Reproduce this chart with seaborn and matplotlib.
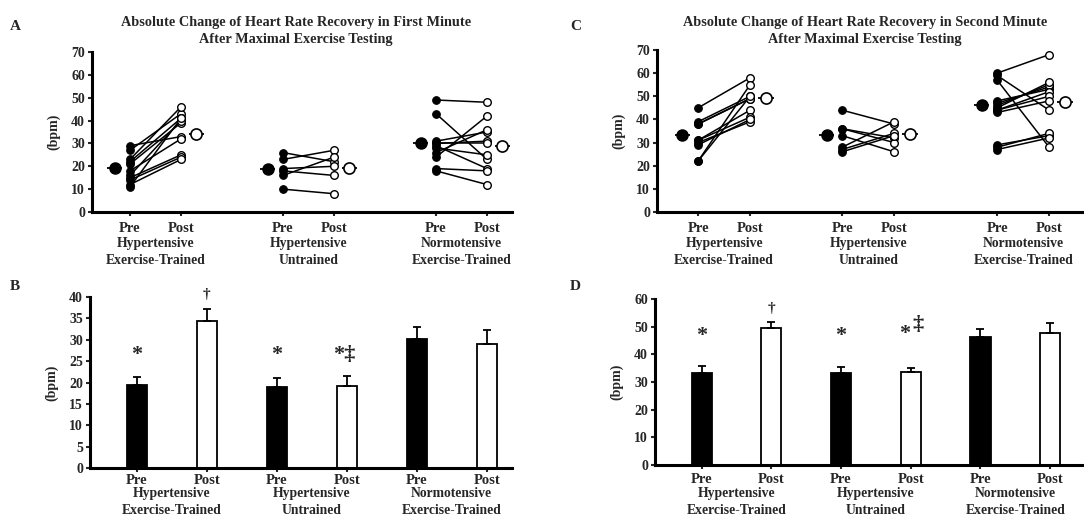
import numpy as np
import pandas as pd
import matplotlib.pyplot as plt
import seaborn as sns
from matplotlib.transforms import blended_transform_factory

groups = ['Hypertensive\nExercise-Trained', 'Hypertensive\nUntrained', 'Normotensive\nExercise-Trained']
phases = ['Pre', 'Post']

# individual responses, first minute (panel A)
hr1_pre = [[29, 27, 23, 22, 21, 18, 16, 15, 14, 12, 11],
           [26, 23, 19, 18, 16, 10],
           [49, 43, 31, 30, 30, 29, 28, 26, 24, 19, 18]]
hr1_post = [[33, 43, 46, 41, 39, 32, 40, 25, 24, 23, 41],
            [22, 27, 20, 16, 24, 8],
            [48, 23, 35, 31, 30, 19, 25, 36, 42, 18, 12]]

# individual responses, second minute (panel C)
hr2_pre = [[45, 39, 38, 38, 31, 31, 30, 29, 22, 22],
           [44, 36, 36, 33, 28, 27, 26],
           [60, 59, 57, 48, 47, 46, 45, 44, 44, 43, 29, 28, 27]]
hr2_post = [[58, 50, 49, 49, 44, 41, 39, 40, 55, 50],
            [38, 32, 30, 26, 39, 34, 33],
            [68, 44, 28, 53, 54, 55, 56, 52, 50, 48, 33, 34, 32]]

# group means and SEM (panels B and D), order: Pre/Post for each group
hr1_mean = [19.4, 34.3, 18.9, 19.2, 30.2, 29.0]
hr1_sem = [2.0, 2.8, 2.1, 2.3, 2.7, 3.3]
hr2_mean = [33.1, 49.4, 33.1, 33.5, 46.1, 47.7]
hr2_sem = [2.8, 2.3, 2.3, 1.6, 3.2, 3.5]

# significance marks: (bar index, symbol, x shift, height in bpm)
hr1_marks = [(0, '*', 0, 26.5), (1, '\u2020', 0, 40.5), (2, '*', 0, 26.5),
             (3, '*\u2021', -0.03, 26.5)]
hr2_marks = [(0, '*', 0, 46.5), (1, '\u2020', 0, 56.4), (2, '*', 0, 46.5),
             (3, '*', -0.09, 47.5), (3, '\u2021', 0.1, 50.7)]

title1 = 'Absolute Change of Heart Rate Recovery in First Minute\nAfter Maximal Exercise Testing'
title2 = 'Absolute Change of Heart Rate Recovery in Second Minute\nAfter Maximal Exercise Testing'

sns.set_style('white')
plt.rcParams['font.family'] = ['Liberation Serif', 'DejaVu Serif']
plt.rcParams['font.weight'] = 'bold'

W, H = 1084, 515
fig = plt.figure(figsize=(W / 100, H / 100), dpi=100)


def px_axes(left, right, top, bottom):
    # pixel box -> figure fraction
    return fig.add_axes([left / W, 1 - bottom / H, (right - left) / W, (bottom - top) / H])


def style_axes(ax, ymax, ystep, xpad):
    for s in ['top', 'right']:
        ax.spines[s].set_visible(False)
    for s in ['left', 'bottom']:
        ax.spines[s].set_linewidth(2.2)
        ax.spines[s].set_color('black')
    ax.set_ylim(0, ymax)
    ax.set_yticks(np.arange(0, ymax + 1, ystep))
    ax.tick_params(axis='y', direction='out', length=3, width=1.5, labelsize=10, pad=2, left=True)
    ax.tick_params(axis='x', direction='out', length=3, width=1.5, labelsize=10.5, pad=xpad, bottom=True)
    ax.set_ylabel('(bpm)', fontsize=10, fontweight='bold', labelpad=8)
    ax.set_xlabel('')
    for t in ax.get_yticklabels() + ax.get_xticklabels():
        t.set_fontweight('bold')


def group_labels(ax, centers, y_px):
    tr = blended_transform_factory(ax.transData, fig.transFigure)
    for c, g in zip(centers, groups):
        ax.text(c, 1 - y_px / H, g, transform=tr, ha='center', va='top',
                fontsize=9.8, fontweight='bold', linespacing=1.38, clip_on=False)


def individual_panel(ax, pre, post, means, starts, xlim):
    rows = []
    sid = 0
    for gi, (p0, p1) in enumerate(zip(pre, post)):
        for a, b in zip(p0, p1):
            rows.append((sid, starts[gi], a, 'Pre'))
            rows.append((sid, starts[gi] + 1, b, 'Post'))
            sid += 1
    df = pd.DataFrame(rows, columns=['subject', 'x', 'bpm', 'phase'])
    sns.lineplot(data=df, x='x', y='bpm', units='subject', estimator=None,
                 color='black', lw=1.1, ax=ax, legend=False)
    sns.scatterplot(data=df[df.phase == 'Pre'], x='x', y='bpm', color='black',
                    edgecolor='black', s=30, linewidth=0.8, ax=ax, zorder=3, legend=False)
    sns.scatterplot(data=df[df.phase == 'Post'], x='x', y='bpm', color='white',
                    edgecolor='black', s=30, linewidth=1.0, ax=ax, zorder=3, legend=False)
    for gi, s in enumerate(starts):
        ax.errorbar(s - 0.3, means[2 * gi], xerr=0.15, fmt='o', color='black',
                    mfc='black', mec='black', ms=8, elinewidth=1.3, capsize=0, zorder=4, clip_on=False)
        ax.errorbar(s + 1.3, means[2 * gi + 1], xerr=0.15, fmt='o', color='black',
                    mfc='white', mec='black', mew=1.2, ms=8, elinewidth=1.3, capsize=0, zorder=4, clip_on=False)
    ticks = [s + k for s in starts for k in (0, 1)]
    ax.set_xticks(ticks)
    ax.set_xticklabels(phases * 3)
    ax.set_xlim(*xlim)


def bar_panel(ax, means, sems, marks):
    df = pd.DataFrame({'pos': [f'{g}{p}' for g in range(3) for p in phases],
                       'bpm': means})
    sns.barplot(data=df, x='pos', y='bpm', hue='pos', palette=['black', 'white'] * 3,
                edgecolor='black', linewidth=1.3, width=0.29, legend=False, ax=ax)
    x = np.arange(6)
    ax.errorbar(x, means, yerr=[np.zeros(6), sems], fmt='none', ecolor='black',
                elinewidth=1.3, capsize=3, capthick=1.3)
    for i, sym, dx, yv in marks:
        fs = 11 if sym == '\u2020' else 16
        ax.text(i + dx, yv, sym, ha='center', va='center', fontsize=fs, fontweight='bold')
    ax.set_xticks(x)
    ax.set_xticklabels(phases * 3)


# panel A
axA = px_axes(92, 512, 52, 212)
individual_panel(axA, hr1_pre, hr1_post, hr1_mean, [0, 3, 6], (-0.745, 7.49))
style_axes(axA, 70, 10, 4)
group_labels(axA, [0.5, 3.5, 6.5], 237)
fig.text(296 / W, 1 - 16 / H, title1, ha='center', va='top', fontsize=10.3,
         fontweight='bold', linespacing=1.35)

# panel C (runs off the right edge in the original)
axC = px_axes(657, 1110, 50, 212)
individual_panel(axC, hr2_pre, hr2_post, hr2_mean, [0, 2.77, 5.75], (-0.79, 7.92))
style_axes(axC, 70, 10, 4)
group_labels(axC, [0.5, 3.27, 6.25], 237)
fig.text(865 / W, 1 - 16 / H, title2, ha='center', va='top', fontsize=10.3,
         fontweight='bold', linespacing=1.35)

# panel B
axB = px_axes(90, 512, 297, 468)
bar_panel(axB, hr1_mean, hr1_sem, hr1_marks)
style_axes(axB, 40, 5, 1.5)
axB.set_xlim(-0.67, 5.36)
group_labels(axB, [0.5, 2.5, 4.5], 487)

# panel D
axD = px_axes(655, 1110, 299, 465)
bar_panel(axD, hr2_mean, hr2_sem, hr2_marks)
style_axes(axD, 60, 10, 3)
axD.set_xlim(-0.67, 5.86)
group_labels(axD, [0.5, 2.5, 4.5], 487)

for lab, x, y in [('A', 15, 27), ('B', 15, 287), ('C', 576, 27), ('D', 575, 287)]:
    fig.text(x / W, 1 - y / H, lab, ha='center', va='center', fontsize=11, fontweight='bold')

fig.savefig('out.png', dpi=100)
